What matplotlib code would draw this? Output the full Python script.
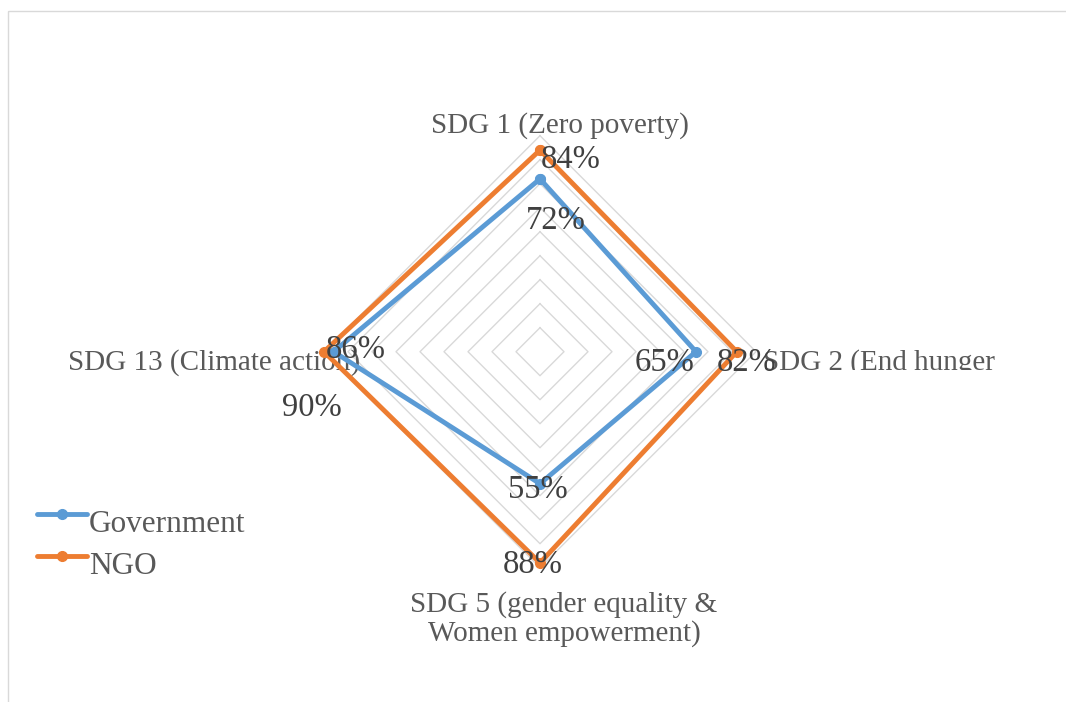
import numpy as np
import matplotlib
matplotlib.use("Agg")
import matplotlib.pyplot as plt
from matplotlib.lines import Line2D
from matplotlib.patches import Rectangle
from matplotlib.transforms import Affine2D, Bbox

# ---- data ----
categories = ["SDG 1 (Zero poverty)", "SDG 2 (End hunger",
              "SDG 5 (gender equality &\nWomen empowerment)", "SDG 13 (Climate action)"]
series_names = ["Government", "NGO"]
government = [0.72, 0.65, 0.55, 0.86]
ngo = [0.84, 0.82, 0.88, 0.90]
ring_values = [0.1, 0.2, 0.3, 0.4, 0.5, 0.6, 0.7, 0.8, 0.9]

W, H = 1066, 702
plt.rcParams['font.family'] = ['Liberation Serif', 'DejaVu Serif']
fig = plt.figure(figsize=(W / 100, H / 100), dpi=100)
fig.patch.set_facecolor('white')
PIX = Affine2D().scale(1, -1).translate(0, H)  # pixel coords from top-left -> display

# chart border
fig.add_artist(Rectangle((8, 11), 1200, 800, transform=PIX, fill=False,
                         edgecolor='#D9D9D9', lw=1.0))

# radar area: centre at (540, 351.7) px, radius 1.0 = 240 px
cx, cy, R = 540, 351.7, 240
ax = fig.add_axes([(cx - R) / W, (H - cy - R) / H, 2 * R / W, 2 * R / H])
ax.set_xlim(-1, 1)
ax.set_ylim(-1, 1)
ax.axis('off')

n = len(categories)
theta = np.arange(n) * 2 * np.pi / n


def xy(vals):
    v = np.asarray(vals, dtype=float)
    return v * np.sin(theta), v * np.cos(theta)


for rv in ring_values:
    x, y = xy([rv] * n)
    ax.plot(np.append(x, x[0]), np.append(y, y[0]), color='#D9D9D9', lw=1.0, zorder=1)

colors = ['#5B9BD5', '#ED7D31']
LW, MS = 3.5, 7
handles = []
for vals, c, name in zip([government, ngo], colors, series_names):
    x, y = xy(vals)
    h, = ax.plot(np.append(x, x[0]), np.append(y, y[0]), color=c, lw=LW,
                 marker='o', markersize=MS, zorder=3, label=name, clip_on=False,
                 solid_joinstyle='miter')
    handles.append(h)

# data labels (offsets in pixels: dx right, dy down)
label_offsets = {
    0: [(16, 38), (-31, 8), (-2, 3), (22, -5)],
    1: [(31, 6), (10, 8), (-7, -2), (-12, 53)],
}
for si, vals in enumerate([government, ngo]):
    x, y = xy(vals)
    for i, v in enumerate(vals):
        dx, dy = label_offsets[si][i]
        ax.annotate(f"{v:.0%}", (x[i], y[i]), xytext=(dx, -dy), textcoords='offset pixels',
                    ha='center', va='center_baseline', fontsize=23.5, color='#404040',
                    zorder=5, annotation_clip=False)

# category labels anchored at outer ring vertices
cat_fmt = [
    dict(off=(20, -13), ha='center'),
    dict(off=(7, 8), ha='left'),
    dict(off=(24, 47), ha='center'),
    dict(off=(36, 8), ha='right'),
]
ox, oy = xy([ring_values[-1]] * n)
for i, lab in enumerate(categories):
    f = cat_fmt[i]
    t = ax.annotate(lab, (ox[i], oy[i]), xytext=(f['off'][0], -f['off'][1]),
                    textcoords='offset pixels', ha=f['ha'], va='center_baseline',
                    multialignment='center', linespacing=1.12,
                    fontsize=21, color='#595959', zorder=2, annotation_clip=False)
    if i == 1:
        t.set_clip_box(Bbox.from_extents(700, H - 370, W, H))
        t.set_clip_on(True)

# legend (manual, lower left)
leg_rows = [514, 556]
for h, name, ly in zip(handles, series_names, leg_rows):
    fig.add_artist(Line2D([37, 62, 87], [ly, ly, ly], transform=PIX, color=h.get_color(),
                          lw=LW, marker='o', markersize=MS, markevery=[1],
                          solid_capstyle='round'))
    fig.text(89, ly + 18, name, transform=PIX, ha='left', va='baseline',
             fontsize=22.5, color='#595959')

fig.savefig('out.png', dpi=100, facecolor='white')
